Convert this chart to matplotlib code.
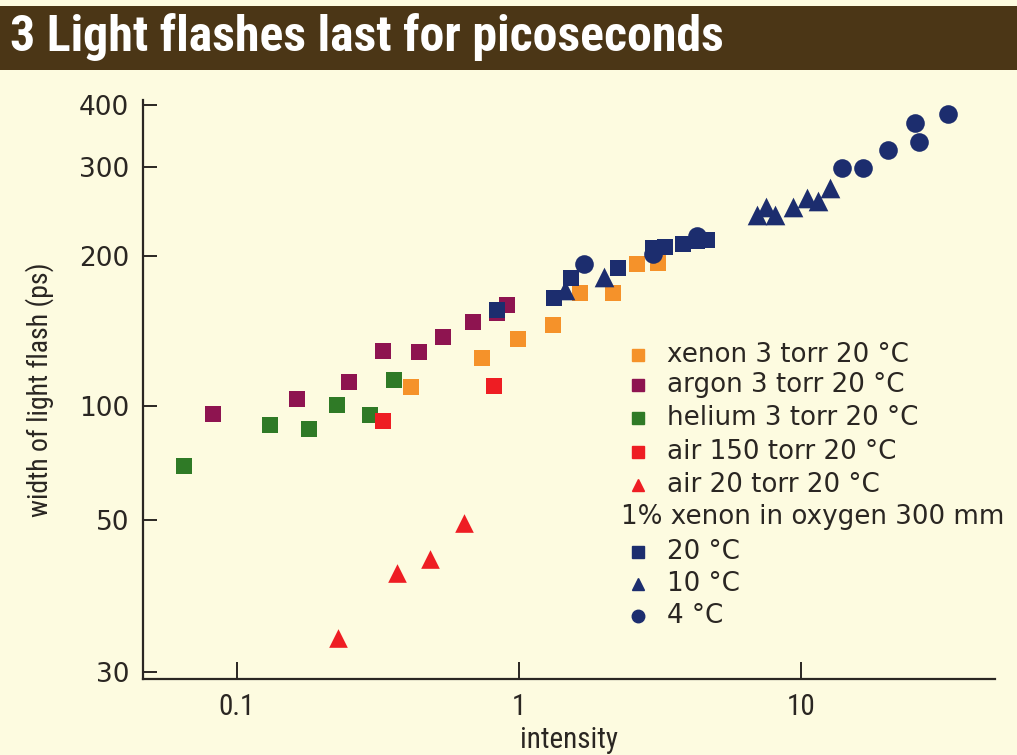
import numpy as np
import matplotlib
matplotlib.use('Agg')
import matplotlib.pyplot as plt
from matplotlib.lines import Line2D
from matplotlib.patches import Rectangle
from matplotlib.ticker import FixedLocator, FixedFormatter, NullLocator
from matplotlib import font_manager

# flash width (ps) against intensity for each gas fill
xenon_x = [0.414, 0.741, 0.989, 1.323, 1.646, 2.149, 2.615, 3.119]
xenon_y = [109, 124.9, 136.3, 145.2, 168.1, 168.1, 192.1, 193.5]

argon_x = [0.0824, 0.1636, 0.249, 0.3295, 0.443, 0.539, 0.685, 0.834, 0.909]
argon_y = [95.4, 103.3, 111.7, 129, 128.2, 137.6, 147, 153.2, 159]

helium_x = [0.065, 0.131, 0.180, 0.2257, 0.296, 0.360]
helium_y = [69.6, 88.9, 86.8, 100.6, 94.5, 112.7]

air150_x = [0.329, 0.817]
air150_y = [91.3, 109.6]

air20_x = [0.228, 0.370, 0.483, 0.640]
air20_y = [33.6, 41.8, 43.8, 49.5]

# 1% xenon in oxygen, 300 mm
mix20_x = [0.834, 1.331, 1.525, 2.249, 2.979, 3.294, 3.824, 4.267, 4.63]
mix20_y = [155.6, 164.2, 180.1, 188.6, 206.8, 208.3, 210.6, 214.3, 214.8]
mix10_x = [1.456, 2.002, 6.965, 8.09, 7.51, 9.39, 10.48, 11.52, 12.67]
mix10_y = [170.6, 181.4, 241, 241, 250.4, 250.4, 260.3, 257.4, 272.5]
mix4_x = [1.701, 2.979, 4.267, 13.94, 16.63, 20.39, 25.37, 26.28, 33.3]
mix4_y = [192.1, 201.1, 218.8, 298.8, 298.8, 325.1, 367.6, 337.8, 383.7]

x_ticks = [0.1, 1, 10]
x_labels = ['0.1', '1', '10']
y_ticks = [30, 50, 100, 200, 300, 400]
y_labels = ['30', '50', '100', '200', '300', '400']

ORANGE = '#F5922A'
PURPLE = '#8E1450'
GREEN = '#2F7A26'
RED = '#EE1D23'
NAVY = '#1C2D6E'
CREAM = '#FDFBE0'
BROWN = '#4B3616'
INK = '#2A2622'

# pick a narrow face if one is around
installed = {f.name for f in font_manager.fontManager.ttflist}
NARROW = [n for n in ['Liberation Sans Narrow', 'Roboto Condensed', 'Open Sans Condensed',
                      'DejaVu Sans'] if n in installed]

# the printed y axis is log-like but the 30-50-100 spacing is uneven,
# so the scale is a piecewise log through the tick positions
knot_vals = np.log10([10, 30, 50, 100, 400, 1000])
knot_pos = np.array([-327, 0, 152, 266, 567, 766], dtype=float)


def fwd(v):
    v = np.clip(np.asarray(v, dtype=float), 1e-6, None)
    return np.interp(np.log10(v), knot_vals, knot_pos)


def inv(p):
    return 10 ** np.interp(np.asarray(p, dtype=float), knot_pos, knot_vals)


W, H = 1017, 755
fig = plt.figure(figsize=(W / 100, H / 100), dpi=100)
fig.patch.set_facecolor(CREAM)

# title band
fig.add_artist(Rectangle((0.0, 1 - 70 / H), 1.0, 64 / H, transform=fig.transFigure,
                         facecolor=BROWN, edgecolor='none'))
title = fig.text(10 / W, 1 - 37 / H, '3 Light flashes last for picoseconds', color='white',
                 fontsize=30, fontweight='bold', family=NARROW, fontstretch='condensed',
                 va='center', ha='left')

# fit the title to the band width it should fill
fig.canvas.draw()
tw = title.get_window_extent().width
title.set_fontsize(min(36, 30 * 715 / tw))

ax = fig.add_axes([143 / W, 1 - 679 / H, (995 - 143) / W, (679 - 100) / H])
ax.set_facecolor(CREAM)
ax.set_xscale('log')
ax.set_yscale('function', functions=(fwd, inv))
ax.set_xlim(0.0464, 48.8)
ax.set_ylim(float(inv(-7)), float(inv(572)))

sq = dict(marker='s', s=135, linewidths=0)
ax.scatter(helium_x, helium_y, color=GREEN, zorder=3, **sq)
ax.scatter(argon_x, argon_y, color=PURPLE, zorder=3, **sq)
ax.scatter(air150_x, air150_y, color=RED, zorder=4, **sq)
ax.scatter(xenon_x, xenon_y, color=ORANGE, zorder=4, **sq)
ax.scatter(air20_x, air20_y, color=RED, marker='^', s=180, linewidths=0, zorder=3)
ax.scatter(mix20_x, mix20_y, color=NAVY, zorder=5, **sq)
ax.scatter(mix10_x, mix10_y, color=NAVY, marker='^', s=200, linewidths=0, zorder=5)
ax.scatter(mix4_x, mix4_y, color=NAVY, marker='o', s=180, linewidths=0, zorder=5)

for side in ['top', 'right']:
    ax.spines[side].set_visible(False)
for side in ['left', 'bottom']:
    ax.spines[side].set_linewidth(1.6)
    ax.spines[side].set_color(INK)

ax.xaxis.set_major_locator(FixedLocator(x_ticks))
ax.xaxis.set_major_formatter(FixedFormatter(x_labels))
ax.xaxis.set_minor_locator(NullLocator())
ax.yaxis.set_major_locator(FixedLocator(y_ticks))
ax.yaxis.set_major_formatter(FixedFormatter(y_labels))
ax.yaxis.set_minor_locator(NullLocator())

ax.tick_params(axis='x', direction='in', length=12, width=1.4, color=INK,
               labelsize=21, labelcolor=INK, pad=10)
ax.tick_params(axis='y', direction='in', length=10, width=1.4, color=INK,
               labelsize=19, labelcolor=INK, pad=10)
for lab in ax.get_xticklabels():
    lab.set_family(NARROW)
    lab.set_stretch('condensed')

ax.set_xlabel('intensity', fontsize=21, family=NARROW, fontstretch='condensed',
              color=INK, labelpad=4)
ax.set_ylabel('width of light flash (ps)', fontsize=20, family=NARROW,
              fontstretch='condensed', color=INK, labelpad=18)

# legend block
rows = [
    ('s', ORANGE, 'xenon 3 torr 20 °C', 355),
    ('s', PURPLE, 'argon 3 torr 20 °C', 385),
    ('s', GREEN, 'helium 3 torr 20 °C', 418),
    ('s', RED, 'air 150 torr 20 °C', 452),
    ('^', RED, 'air 20 torr 20 °C', 485),
    (None, None, '1% xenon in oxygen 300 mm', 517),
    ('s', NAVY, '20 °C', 552),
    ('^', NAVY, '10 °C', 584),
    ('o', NAVY, '4 °C', 616),
]
for mk, col, text, py in rows:
    fy = 1 - py / H
    if mk is None:
        fig.text(621 / W, fy, text, fontsize=18.8, color=INK, va='center', ha='left')
        continue
    fig.add_artist(Line2D([638 / W], [fy], marker=mk, markersize=9 if mk != 's' else 8,
                          color=col, linestyle='none', transform=fig.transFigure))
    fig.text(667 / W, fy, text, fontsize=18.8, color=INK, va='center', ha='left')

fig.savefig('out.png', dpi=100, facecolor=fig.get_facecolor())
